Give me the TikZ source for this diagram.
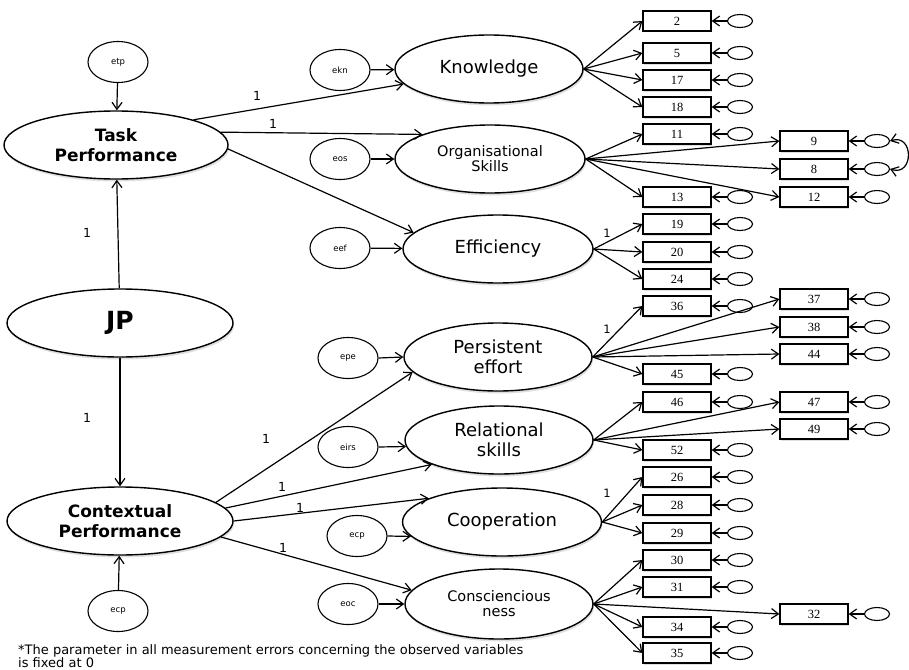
\documentclass[tikz,border=0pt]{standalone}
\usepackage{fontspec}
\setmainfont{DejaVu Sans}
\newfontfamily\numfont{Liberation Serif}
\usetikzlibrary{arrows.meta,shapes.geometric,shadows}

\begin{document}
\begin{tikzpicture}[
    x=1pt, y=-1pt,
    latent/.style={ellipse, draw=black, line width=1.4pt, fill=white, align=center, inner sep=0pt, drop shadow={shadow xshift=1pt, shadow yshift=-2.5pt, opacity=.25}},
    factor/.style={latent, minimum width=224pt, minimum height=68pt, font=\fontsize{17}{20}\selectfont\bfseries},
    dim/.style={latent, minimum width=188pt, minimum height=68pt, font=\fontsize{18}{20}\selectfont},
    dimsmall/.style={dim, font=\fontsize{14.5}{15}\selectfont},
    err/.style={ellipse, draw=black, line width=1.1pt, fill=white, minimum width=60pt, minimum height=41pt, inner sep=0pt, font=\fontsize{8.5}{9}\selectfont},
    item/.style={rectangle, draw=black, line width=1.3pt, fill=white, minimum width=68pt, minimum height=20pt, inner sep=0pt, font=\numfont\fontsize{12.5}{12.5}\selectfont, drop shadow={shadow xshift=1pt, shadow yshift=-1.5pt, opacity=.25}},
    uerr/.style={ellipse, draw=black, line width=1.1pt, minimum width=25pt, minimum height=13pt, inner sep=0pt},
    arrow/.style={-{Straight Barb[length=7pt,width=10pt]}, line width=1.2pt},
    lbl/.style={font=\fontsize{12.5}{12.5}\selectfont, inner sep=0pt},
    note/.style={font=\fontsize{13}{13}\selectfont, inner sep=0pt, anchor=base west}
]
\useasboundingbox (0,0) rectangle (909,669);

% second-order factor and its two dimensions
\node[factor] (tp) at (116,145) {Task\\Performance};
\node[factor, minimum width=226pt, font=\fontsize{25}{25}\selectfont\bfseries] (jp) at (120,323) {JP};
\node[factor, minimum width=226pt] (cp) at (120,521) {Contextual\\Performance};
\node[err] (etp) at (118,62) {etp};
\node[err] (ecpb) at (118,611) {ecp};

% first-order factors
\node[dim] (know) at (489,69) {Knowledge};
\node[dimsmall, minimum width=190pt] (org) at (490,159) {Organisational\\Skills};
\node[dim, minimum width=190pt] (eff) at (498,249) {Efficiency};
\node[dim] (pers) at (498,357) {Persistent\\effort};
\node[dim] (rel) at (499,440) {Relational\\skills};
\node[dim, minimum width=199pt] (coop) at (502,522) {Cooperation};
\node[dimsmall, minimum height=70pt] (consc) at (499,604) {Consciencious\\ness};

\node[err] (ekn) at (340,70) {ekn};
\node[err] (eos) at (340,159) {eos};
\node[err] (eef) at (340,248) {eef};
\node[err] (epe) at (348,358) {epe};
\node[err] (eirs) at (348,447) {eirs};
\node[err] (ecpm) at (357,536) {ecp};
\node[err] (eoc) at (348,604) {eoc};

% observed items with their errors
\foreach \n/\x/\y in {2/677/21, 5/677/53, 17/677/80, 18/677/107, 11/677/134, 13/677/197,
    19/677/224, 20/677/252, 24/677/279, 36/677/306, 45/677/374, 46/677/402, 52/677/450,
    26/677/477, 28/677/505, 29/677/533, 30/677/560, 31/677/587, 34/677/627, 35/677/653,
    9/814/141, 8/814/169, 12/814/197, 37/814/299, 38/814/327, 44/814/354,
    47/814/402, 49/814/429, 32/814/614} {
  \node[item] (b\n) at (\x,\y) {\n};
  \node[uerr] (u\n) at (\x+63,\y) {};
  \draw[arrow] (u\n.west) -- (b\n.east);
}
\draw[{Straight Barb[length=7pt,width=10pt]}-{Straight Barb[length=7pt,width=10pt]}, line width=1.2pt]
  (u9.east) .. controls +(24,-8) and +(24,8) .. (u8.east);

% loadings
\foreach \f/\items in {know/{2,5,17,18}, org/{11,9,8,12,13}, eff/{19,20,24},
    pers/{36,37,38,44,45}, rel/{46,47,49,52}, coop/{26,28,29}, consc/{30,31,32,34,35}} {
  \foreach \n in \items
    \draw[arrow] (\f.east) -- (b\n.west);
}

\draw[arrow] (etp) -- (tp);
\draw[arrow] (jp) -- (tp);
\draw[arrow] (jp) -- (cp);
\draw[arrow] (ecpb) -- (cp);

\draw[arrow] (tp.18) -- (know.190);
\draw[arrow] (tp.7) -- (org.160);
\draw[arrow] (tp.-2) -- (eff.169);
\draw[arrow] (cp.11) -- (pers.190);
\draw[arrow] (cp.7) -- (rel.200);
\draw[arrow] (cp.east) -- (coop.162);
\draw[arrow] (cp.-9) -- (consc.171);

\draw[arrow] (ekn) -- (know);
\draw[arrow] (eos) -- (org);
\draw[arrow] (eef) -- (eff);
\draw[arrow] (epe.east) -- (pers.west);
\draw[arrow] (eirs.east) -- (rel.184);
\draw[arrow] (ecpm.east) -- (coop.189);
\draw[arrow] (eoc) -- (consc);

% fixed loadings
\node[lbl] (l1) at (87,233) {1};
\node[lbl] (l2) at (87,418) {1};
\node[lbl] (l3) at (257,96) {1};
\node[lbl] (l4) at (273,124) {1};
\node[lbl] (l5) at (266,439) {1};
\node[lbl] (l6) at (282,487) {1};
\node[lbl] (l7) at (300,508) {1};
\node[lbl] (l8) at (283,548) {1};
\node[lbl, font=\fontsize{11.5}{11.5}\selectfont] (l9) at (607,233) {1};
\node[lbl, font=\fontsize{11.5}{11.5}\selectfont] (l10) at (607,329) {1};
\node[lbl, font=\fontsize{11.5}{11.5}\selectfont] (l11) at (607,493) {1};

\node[note] (note1) at (18,654) {*The parameter in all measurement errors concerning the observed variables};
\node[note] (note2) at (18,667) {is fixed at 0};
\end{tikzpicture}
\end{document}
